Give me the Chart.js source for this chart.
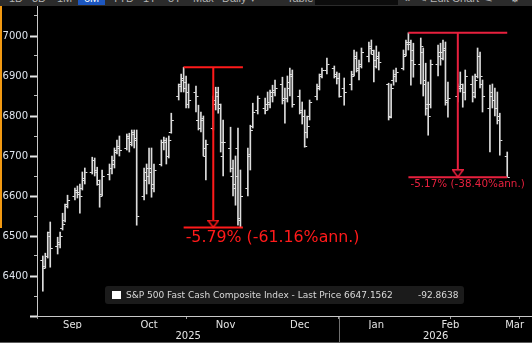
<!DOCTYPE html>
<html><head><meta charset="utf-8">
<script src="https://cdn.jsdelivr.net/npm/chart.js@4.4.1/dist/chart.umd.min.js"></script>
<style>
html,body{margin:0;padding:0;background:#000;width:532px;height:343px;overflow:hidden;position:relative;}
#tb{position:absolute;left:0;top:0;width:532px;height:6px;background:#2b2b2b;overflow:hidden;font:11px "Liberation Sans",sans-serif;color:#b4b4b4;}
#tb span{position:absolute;top:-8px;line-height:13px;white-space:nowrap;}
#tb .on{background:#1d57c0;color:#fff;padding:0 6px;}
#tb .dark{background:#0c0c0c;height:13px;}
#c{position:absolute;left:0;top:6px;}
#orange{position:absolute;left:0;top:6px;width:2px;height:222px;background:#f29a12;}
#bline{position:absolute;left:0;top:342px;width:532px;height:1px;background:#5c5c5c;}
#legend{position:absolute;left:105px;top:286px;width:359px;height:18px;background:#1b1b1b;border-radius:3px;font:9px "DejaVu Sans",sans-serif;color:#dadada;line-height:18px;white-space:nowrap;}
#legend .sq{position:absolute;left:7px;top:5px;width:9px;height:8px;background:#fff;}
#legend .t1{position:absolute;left:21px;top:0;}
#legend .t2{position:absolute;left:313px;top:0;}
</style></head>
<body>
<div id="tb">
<span style="left:9px">1D</span><span style="left:32px">3D</span><span style="left:57px">1M</span>
<span class="on" style="left:78px">6M</span><span style="left:112px">YTD</span><span style="left:143px">1Y</span>
<span style="left:168px">5Y</span><span style="left:193px">Max</span><span style="left:222px">Daily ▾</span>
<span style="left:287px">Table</span><span class="dark" style="left:315px;width:83px"></span>
<span style="left:404px">«</span><span style="left:418px">✎ Edit Chart</span><span style="left:484px">⚟</span><span style="left:510px">⚙</span>
</div>
<canvas id="c" width="532" height="336"></canvas>
<div id="orange"></div>
<div id="bline"></div>
<div id="legend"><div class="sq"></div><span class="t1">S&amp;P 500 Fast Cash Composite Index - Last Price 6647.1562</span><span class="t2">-92.8638</span></div>
<script>
// ---- data (daily OHLC) ----
const dates = [
'2025-09-02','2025-09-03','2025-09-04','2025-09-05','2025-09-08','2025-09-09','2025-09-10','2025-09-11','2025-09-12',
'2025-09-15','2025-09-16','2025-09-17','2025-09-18','2025-09-19','2025-09-22','2025-09-23','2025-09-24','2025-09-25',
'2025-09-26','2025-09-29','2025-09-30',
'2025-10-01','2025-10-02','2025-10-03','2025-10-06','2025-10-07','2025-10-08','2025-10-09','2025-10-10','2025-10-13',
'2025-10-14','2025-10-15','2025-10-16','2025-10-17','2025-10-20','2025-10-21','2025-10-22','2025-10-23','2025-10-24',
'2025-10-27','2025-10-28','2025-10-29','2025-10-30','2025-10-31',
'2025-11-03','2025-11-04','2025-11-05','2025-11-06','2025-11-07','2025-11-10','2025-11-11','2025-11-12','2025-11-13',
'2025-11-14','2025-11-17','2025-11-18','2025-11-19','2025-11-20','2025-11-21','2025-11-24','2025-11-25','2025-11-26',
'2025-11-28',
'2025-12-01','2025-12-02','2025-12-03','2025-12-04','2025-12-05','2025-12-08','2025-12-09','2025-12-10','2025-12-11',
'2025-12-12','2025-12-15','2025-12-16','2025-12-17','2025-12-18','2025-12-19','2025-12-22','2025-12-23','2025-12-24',
'2025-12-26','2025-12-29','2025-12-30','2025-12-31',
'2026-01-02','2026-01-05','2026-01-06','2026-01-07','2026-01-08','2026-01-09','2026-01-12','2026-01-13','2026-01-14',
'2026-01-15','2026-01-16','2026-01-20','2026-01-21','2026-01-22','2026-01-23','2026-01-26','2026-01-27','2026-01-28',
'2026-01-29','2026-01-30',
'2026-02-02','2026-02-03','2026-02-04','2026-02-05','2026-02-06','2026-02-09','2026-02-10','2026-02-11','2026-02-12',
'2026-02-13','2026-02-17','2026-02-18','2026-02-19','2026-02-20','2026-02-23','2026-02-24','2026-02-25','2026-02-26',
'2026-02-27',
'2026-03-02','2026-03-03','2026-03-04','2026-03-05','2026-03-06','2026-03-09'];
const opens = [
6440,6425,6450,6510,6475,6485,6520,6540,6580,6600,6615,6610,6620,6645,6660,6690,6665,6630,6605,6655,6670,
6680,6715,6725,6720,6750,6735,6760,6745,6600,6640,6670,6670,6620,6680,6735,6740,6700,6760,6850,6880,6895,6870,6860,
6860,6790,6770,6790,6700,6770,6830,6860,6820,6700,6720,6650,6630,6720,6545,6620,6700,6775,6815,
6820,6830,6835,6860,6865,6880,6840,6845,6870,6905,6850,6810,6800,6760,6800,6850,6870,6905,6915,6920,6900,6895,
6870,6880,6905,6950,6915,6930,6950,6975,6955,6940,6950,6880,6800,6890,6900,6920,6955,6985,6980,6940,
6930,6960,6890,6820,6830,6930,6950,6960,6965,6840,6850,6875,6870,6860,6880,6860,6900,6950,6880,
6820,6850,6840,6820,6790,6700];
const highs = [
6450,6457,6510,6535,6497,6510,6557,6580,6602,6620,6625,6630,6660,6670,6697,6695,6672,6640,6665,6680,6700,
6720,6740,6750,6755,6757,6765,6765,6765,6670,6680,6720,6720,6680,6740,6747,6745,6750,6807,6880,6905,6922,6900,6880,
6875,6827,6810,6800,6740,6850,6872,6872,6830,6790,6772,6690,6700,6770,6665,6720,6777,6832,6850,
6845,6860,6865,6877,6890,6897,6870,6900,6920,6915,6865,6835,6815,6800,6840,6880,6905,6920,6945,6925,6910,6907,
6895,6912,6965,6960,6940,6970,6985,6990,6965,6975,6960,6882,6880,6915,6920,6965,6990,7008,6990,6982,
6995,6970,6932,6885,6940,6977,6982,6990,6985,6885,6880,6910,6880,6915,6900,6905,6970,6960,6890,
6877,6880,6870,6860,6807,6710];
const lows = [
6362,6420,6445,6422,6455,6470,6515,6535,6570,6590,6595,6557,6615,6630,6655,6650,6627,6572,6600,6640,6655,
6670,6705,6700,6715,6710,6725,6720,6527,6590,6605,6630,6597,6610,6675,6715,6680,6695,6757,6840,6860,6860,6820,6820,
6810,6765,6760,6700,6640,6765,6815,6807,6710,6650,6660,6600,6577,6527,6521,6600,6665,6770,6805,
6805,6815,6820,6835,6850,6830,6782,6835,6850,6822,6805,6780,6722,6745,6790,6840,6865,6895,6905,6895,6880,6847,
6827,6865,6900,6910,6890,6920,6935,6955,6885,6920,6915,6790,6795,6877,6885,6915,6950,6965,6877,6897,
6880,6850,6802,6752,6820,6900,6927,6940,6827,6797,6835,6860,6822,6840,6835,6845,6895,6870,6810,
6710,6820,6800,6780,6702,6647];
const closes = [
6420,6450,6500,6470,6480,6500,6530,6575,6590,6610,6605,6600,6640,6660,6690,6660,6640,6600,6650,6670,6690,
6710,6720,6715,6745,6730,6755,6740,6550,6660,6650,6660,6630,6665,6735,6735,6700,6740,6790,6875,6890,6885,6830,6840,
6850,6770,6795,6720,6730,6840,6850,6830,6735,6735,6670,6620,6650,6540,6600,6705,6765,6810,6845,
6815,6830,6850,6860,6870,6845,6845,6885,6900,6830,6815,6800,6725,6775,6835,6875,6900,6915,6930,6905,6895,6850,
6860,6900,6945,6920,6925,6960,6970,6965,6925,6945,6935,6797,6870,6905,6910,6950,6980,6985,6965,6930,
6975,6880,6830,6800,6930,6960,6945,6970,6835,6845,6870,6880,6860,6900,6850,6890,6950,6900,6850,
6860,6840,6820,6800,6740,6647];

// drawdown annotations
const ddStart  = ['2025-10-29', '2026-01-28'];
const ddEnd    = ['2025-11-22', '2026-03-09'];
const ddPeak   = [6922, 7008];
const ddTrough = [6521, 6647];
const ddLabel  = ['-5.79% (-61.16%ann.)', '-5.17% (-38.40%ann.)'];
const ddColor  = ['#ff1a1a', '#e8203e'];
const ddFont   = [15.8, 10.4];

// axis labels / ticks
const yMajor = [6300, 6400, 6500, 6600, 6700, 6800, 6900, 7000];
const yMinor = [6350, 6450, 6550, 6650, 6750, 6850, 6950, 7050];
const monthNames = ['Sep', 'Oct', 'Nov', 'Dec', 'Jan', 'Feb', 'Mar'];
const monthLabelDates = ['2025-09-14', '2025-10-15', '2025-11-15', '2025-12-15', '2026-01-15', '2026-02-14', '2026-03-12'];
const monthTickDates = ['2025-09-30', '2025-11-29', '2026-01-31', '2026-02-28'];
const yearNames = ['2025', '2026'];
const yearBreakDate = '2025-12-31';
const xMin = -1.36, xMax = 199.03, yMin = 6300, yMax = 7075;

// ---- helpers ----
const base = Date.UTC(2025, 8, 1);
const dayOf = s => { const [Y, M, D] = s.split('-').map(Number); return (Date.UTC(Y, M - 1, D) - base) / 864e5; };

function tickImg(left) {
  const c = document.createElement('canvas'); c.width = 7; c.height = 1;
  const g = c.getContext('2d'); g.fillStyle = '#e2e2e2'; g.fillRect(left ? 1 : 4, 0, 2, 1); return c;
}
function triImg(color) {
  const c = document.createElement('canvas'); c.width = 12; c.height = 16;
  const g = c.getContext('2d'); g.strokeStyle = color; g.lineWidth = 1.5; g.fillStyle = '#000';
  g.beginPath(); g.moveTo(0.75, 0.75); g.lineTo(11.25, 0.75); g.lineTo(6, 7.7); g.closePath(); g.fill(); g.stroke();
  return c;
}

Chart.defaults.font.family = '"DejaVu Sans", sans-serif';
Chart.defaults.color = '#dde3ec';

const xs = dates.map(dayOf);
const datasets = [
  { type: 'bar', data: xs.map((d, i) => ({ x: d, y: [lows[i], highs[i]] })), backgroundColor: '#dcdcdc',
    borderWidth: 0, barThickness: 1, xAxisID: 'x', yAxisID: 'y', order: 6 },
  { type: 'scatter', data: xs.map((d, i) => ({ x: d, y: opens[i] })), pointStyle: tickImg(true), pointRadius: 2,
    xAxisID: 'x', yAxisID: 'y', order: 5 },
  { type: 'scatter', data: xs.map((d, i) => ({ x: d, y: closes[i] })), pointStyle: tickImg(false), pointRadius: 2,
    xAxisID: 'x', yAxisID: 'y', order: 5 }
];
ddStart.forEach((s, i) => {
  const a = dayOf(s), b = dayOf(ddEnd[i]), m = (a + b) / 2;
  const line = pts => ({ type: 'line', data: pts, borderColor: ddColor[i], borderWidth: 2, pointRadius: 0,
    fill: false, tension: 0, xAxisID: 'x', yAxisID: 'y', order: 2 });
  datasets.push(line([{ x: a, y: ddPeak[i] }, { x: b, y: ddPeak[i] }]));
  datasets.push(line([{ x: a, y: ddTrough[i] }, { x: b, y: ddTrough[i] }]));
  datasets.push(line([{ x: m, y: ddPeak[i] }, { x: m, y: ddTrough[i] }]));
  datasets.push({ type: 'scatter', data: [{ x: m, y: ddTrough[i] }], pointStyle: triImg(ddColor[i]), pointRadius: 3,
    xAxisID: 'x', yAxisID: 'y', order: 1 });
});

const ddText = {
  id: 'ddText',
  afterDatasetsDraw(chart) {
    const { ctx, scales: { x, y } } = chart;
    ctx.save();
    ctx.textBaseline = 'top'; ctx.textAlign = 'left';
    ddLabel.forEach((t, i) => {
      ctx.fillStyle = ddColor[i];
      ctx.font = ddFont[i] + 'px "DejaVu Sans", sans-serif';
      ctx.fillText(t, x.getPixelForValue(dayOf(ddStart[i])) + 2, y.getPixelForValue(ddTrough[i]) + 2);
    });
    ctx.restore();
  }
};

const hx = (extra) => Object.assign({ type: 'linear', axis: 'x', position: 'bottom', min: xMin, max: xMax, offset: false }, extra);
const sepDay = dayOf(yearBreakDate);
const yearPos = [(xMin + sepDay) / 2, (sepDay + xMax) / 2];

new Chart(document.getElementById('c'), {
  type: 'scatter',
  data: { datasets },
  options: {
    responsive: false, animation: false, events: [],
    layout: { padding: 0, autoPadding: false },
    plugins: { legend: { display: false }, tooltip: { enabled: false } },
    scales: {
      x: hx({ weight: 0,
        border: { display: true, color: '#c8c8c8', width: 1 },
        grid: { display: true, drawOnChartArea: false, drawTicks: true, tickLength: 3, tickColor: '#9a9a9a', tickWidth: 1 },
        ticks: { display: false },
        afterBuildTicks: s => { s.ticks = monthTickDates.map(d => ({ value: dayOf(d) })); },
        afterFit: s => { s.height = 0; s.paddingLeft = 0; s.paddingRight = 0; } }),
      xs: hx({ weight: 1,
        border: { display: false },
        grid: { display: true, drawOnChartArea: false, drawTicks: true, tickLength: 27, tickColor: '#707070', tickWidth: 1 },
        ticks: { display: false },
        afterBuildTicks: s => { s.ticks = [{ value: sepDay }]; },
        afterFit: s => { s.height = 0; s.paddingLeft = 0; s.paddingRight = 0; } }),
      xm: hx({ weight: 2,
        border: { display: false }, grid: { display: false, drawTicks: false, tickLength: 0 },
        ticks: { display: true, autoSkip: false, maxRotation: 0, padding: 3, color: '#e4e4e4', font: { size: 10 },
          callback: (v, i) => monthNames[i] },
        afterBuildTicks: s => { s.ticks = monthLabelDates.map(d => ({ value: dayOf(d) })); },
        afterFit: s => { s.height = 13; s.paddingLeft = 0; s.paddingRight = 0; } }),
      xy: hx({ weight: 3,
        border: { display: false }, grid: { display: false, drawTicks: false, tickLength: 0 },
        ticks: { display: true, autoSkip: false, maxRotation: 0, padding: 1, color: '#e4e4e4', font: { size: 10 },
          callback: (v, i) => yearNames[i] },
        afterBuildTicks: s => { s.ticks = yearPos.map(v => ({ value: v })); },
        afterFit: s => { s.height = 13; s.paddingLeft = 0; s.paddingRight = 0; } }),
      y: { type: 'linear', axis: 'y', position: 'left', weight: 1, min: yMin, max: yMax,
        border: { display: true, color: '#c8c8c8', width: 1 },
        grid: { display: true, drawOnChartArea: false, drawTicks: true, tickLength: 7, tickWidth: 2, tickColor: '#e6e6e6' },
        ticks: { padding: 2, color: '#dde3ec', font: { size: 10 }, callback: v => (v >= 6400 ? String(v) : '') },
        afterBuildTicks: s => { s.ticks = yMajor.map(v => ({ value: v })); },
        afterFit: s => { s.width = 37; s.paddingTop = 0; s.paddingBottom = 0; } },
      ym: { type: 'linear', axis: 'y', position: 'left', weight: 0, min: yMin, max: yMax,
        border: { display: false },
        grid: { display: true, drawOnChartArea: false, drawTicks: true, tickLength: 3, tickWidth: 1, tickColor: '#bdbdbd' },
        ticks: { display: false },
        afterBuildTicks: s => { s.ticks = yMinor.map(v => ({ value: v })); },
        afterFit: s => { s.width = 0; s.paddingTop = 0; s.paddingBottom = 0; } }
    }
  },
  plugins: [ddText]
});
</script>
</body></html>
